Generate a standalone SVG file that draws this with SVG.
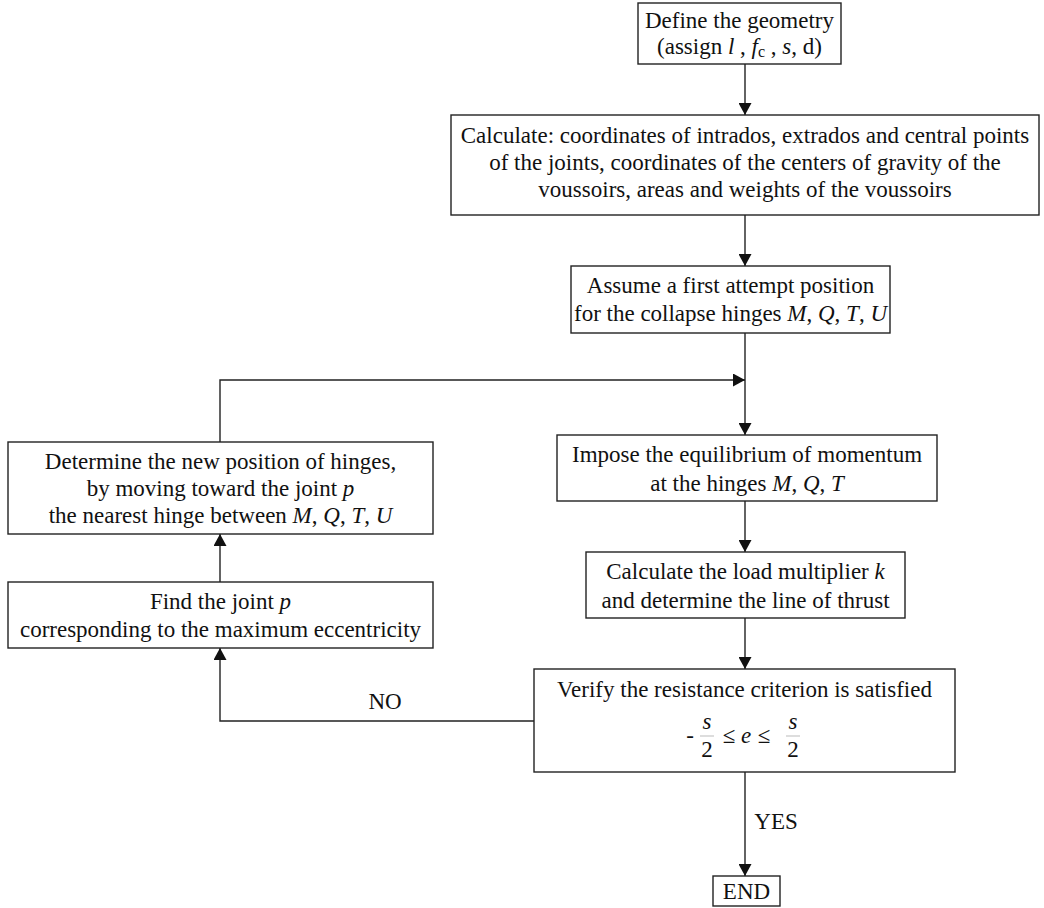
<svg xmlns="http://www.w3.org/2000/svg" width="1044" height="908" viewBox="0 0 1044 908">
<style>
.box{fill:#fff;stroke:#222;stroke-width:1.4}
.t{font-family:"Liberation Serif","Times New Roman",serif;font-size:23px;fill:#111;text-anchor:middle}
.i{font-style:italic}
.c{fill:none;stroke:#222;stroke-width:1.4}
</style>
<defs>
<marker id="ah" markerUnits="userSpaceOnUse" markerWidth="13" markerHeight="13" refX="12" refY="6.5" orient="auto">
<path d="M0,0 L12,6.5 L0,13 z" fill="#111"/>
</marker>
</defs>
<rect width="1044" height="908" fill="#fff"/>
<g id="connectors">
<path class="c" d="M745,64 V115" marker-end="url(#ah)"/>
<path class="c" d="M745,215 V266" marker-end="url(#ah)"/>
<path class="c" d="M745,333 V435" marker-end="url(#ah)"/>
<path class="c" d="M220,442 V380 H745" marker-end="url(#ah)"/>
<path class="c" d="M745,501 V552" marker-end="url(#ah)"/>
<path class="c" d="M745,618 V669" marker-end="url(#ah)"/>
<path class="c" d="M534,721 H220 V648" marker-end="url(#ah)"/>
<path class="c" d="M220,582 V534" marker-end="url(#ah)"/>
<path class="c" d="M745,772 V876" marker-end="url(#ah)"/>
<text class="t" x="385" y="709">NO</text>
<text class="t" x="776" y="829">YES</text>
</g>
<g id="define">
<rect class="box" x="638" y="3" width="203" height="61"/>
<text class="t" x="739.5" y="28">Define the geometry</text>
<text class="t" x="739.5" y="54">(assign <tspan class="i">l</tspan> , <tspan class="i">f</tspan><tspan font-size="16" dy="3">c</tspan><tspan dy="-3"> , </tspan><tspan class="i">s</tspan>, d)</text>
</g>
<g id="calculate">
<rect class="box" x="451" y="115" width="588" height="100"/>
<text class="t" x="745" y="143">Calculate: coordinates of intrados, extrados and central points</text>
<text class="t" x="745" y="170">of the joints, coordinates of the centers of gravity of the</text>
<text class="t" x="745" y="197">voussoirs, areas and weights of the voussoirs</text>
</g>
<g id="assume">
<rect class="box" x="571" y="266" width="319" height="67"/>
<text class="t" x="730.5" y="293">Assume a first attempt position</text>
<text class="t" x="730.5" y="321">for the collapse hinges <tspan class="i">M</tspan>, <tspan class="i">Q</tspan>, <tspan class="i">T</tspan>, <tspan class="i">U</tspan></text>
</g>
<g id="impose">
<rect class="box" x="557" y="435" width="380" height="66"/>
<text class="t" x="747" y="462">Impose the equilibrium of momentum</text>
<text class="t" x="747" y="491">at the hinges <tspan class="i">M</tspan>, <tspan class="i">Q</tspan>, <tspan class="i">T</tspan></text>
</g>
<g id="load">
<rect class="box" x="586" y="552" width="319" height="66"/>
<text class="t" x="745.5" y="579">Calculate the load multiplier <tspan class="i">k</tspan></text>
<text class="t" x="745.5" y="608">and determine the line of thrust</text>
</g>
<g id="verify">
<rect class="box" x="534" y="669" width="421" height="103"/>
<text class="t" x="744.5" y="697">Verify the resistance criterion is satisfied</text>
<text class="t" x="690" y="743">-</text>
<text class="t i" x="707" y="729">s</text>
<line x1="700" y1="736" x2="714" y2="736" stroke="#aaa" stroke-width="0.8"/>
<text class="t" x="707" y="757">2</text>
<text class="t" x="729" y="743">≤</text>
<text class="t i" x="746" y="743">e</text>
<text class="t" x="764" y="743">≤</text>
<text class="t i" x="793" y="729">s</text>
<line x1="786" y1="736" x2="800" y2="736" stroke="#aaa" stroke-width="0.8"/>
<text class="t" x="793" y="757">2</text>
</g>
<g id="determine">
<rect class="box" x="8" y="442" width="425" height="92"/>
<text class="t" x="220.5" y="469">Determine the new position of hinges,</text>
<text class="t" x="220.5" y="496">by moving toward the joint <tspan class="i">p</tspan></text>
<text class="t" x="220.5" y="523">the nearest hinge between <tspan class="i">M</tspan>, <tspan class="i">Q</tspan>, <tspan class="i">T</tspan>, <tspan class="i">U</tspan></text>
</g>
<g id="find">
<rect class="box" x="8" y="582" width="425" height="66"/>
<text class="t" x="220.5" y="609">Find the joint <tspan class="i">p</tspan></text>
<text class="t" x="220.5" y="637">corresponding to the maximum eccentricity</text>
</g>
<g id="end">
<rect class="box" x="713" y="876" width="67" height="30"/>
<text class="t" x="746.5" y="899">END</text>
</g>
</svg>
